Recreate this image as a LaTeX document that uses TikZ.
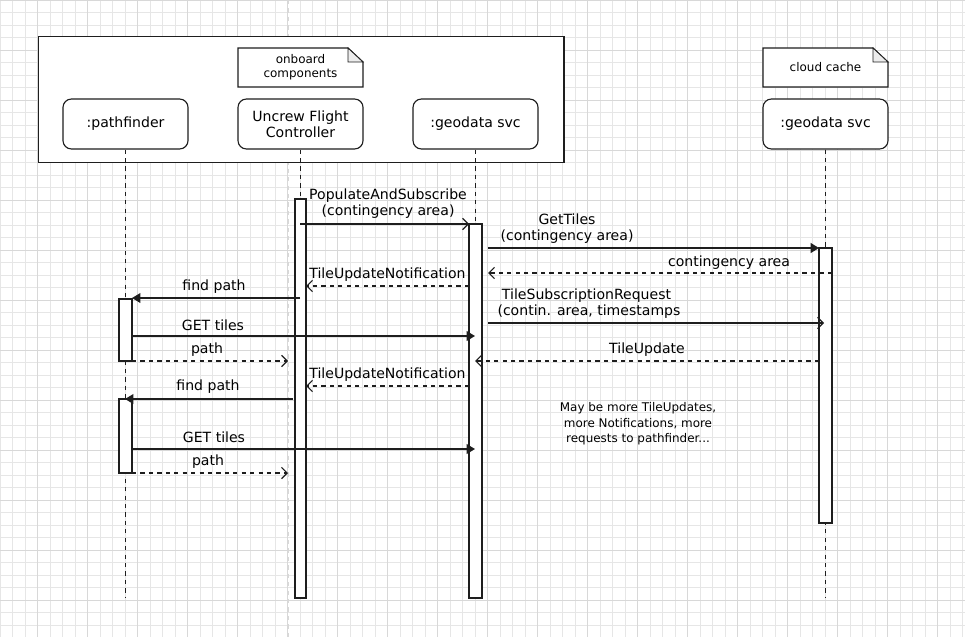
\documentclass[tikz,border=0pt]{standalone}
\usepackage{fontspec}
\setmainfont{DejaVu Sans}
\usetikzlibrary{shapes,arrows.meta,positioning,calc}
\definecolor{gridline}{RGB}{230,230,230}
\definecolor{gridmajor}{RGB}{216,216,216}
\definecolor{darkline}{RGB}{30,30,30}

\begin{document}
\begin{tikzpicture}[x=0.025cm, y=-0.025cm,
        actor/.style={rectangle, rounded corners=6pt, draw=darkline, fill=white, line width=0.8pt, minimum width=3.125cm, minimum height=1.25cm, align=center, font=\fontsize{10}{11.5}\selectfont},
        lbl/.style={font=\fontsize{10}{11.5}\selectfont, align=center, inner sep=0pt},
        life/.style={dashed, line width=0.7pt, darkline},
        act/.style={rectangle, draw=darkline, fill=white, line width=0.8pt},
        call/.style={-{Triangle[length=6pt,width=7pt]}, line width=0.8pt, darkline},
        async/.style={-{Straight Barb[length=4pt,width=8pt]}, line width=0.8pt, darkline},
        reply/.style={dashed, -{Straight Barb[length=4pt,width=8pt]}, line width=0.8pt, darkline}
    ]
    \useasboundingbox (0,0) rectangle (965,637);

    % Grid background
    \foreach \g in {0,12.5,...,965} \draw[gridline, line width=0.4pt] (\g,0) -- (\g,637);
    \foreach \g in {0,12.5,...,637} \draw[gridline, line width=0.4pt] (0,\g) -- (965,\g);
    \foreach \g in {37.5,87.5,...,965} \draw[gridmajor, line width=0.5pt] (\g,0) -- (\g,637);
    \foreach \g in {0,50,...,637} \draw[gridmajor, line width=0.5pt] (0,\g) -- (965,\g);
    \draw[gridmajor, dashed, line width=0.6pt] (288,0) -- (288,637);

    % Onboard frame
    \node[rectangle, draw=darkline, fill=white, line width=1pt, minimum width=13.125cm, minimum height=3.15cm, anchor=north west] (frame) at (38,36) {};
    \draw[darkline, fill=white, line width=0.8pt] (238,48) -- (348,48) -- (363,62) -- (363,87) -- (238,87) -- cycle;
    \draw[darkline, fill=gray!15, line width=0.6pt] (348,48) -- (348,62) -- (363,62) -- cycle;
    \node[lbl, font=\fontsize{8.5}{10}\selectfont] (onb) at (300.5,67.5) {onboard\\components};
    \draw[darkline, fill=white, line width=0.8pt] (763,48) -- (873,48) -- (888,62) -- (888,87) -- (763,87) -- cycle;
    \draw[darkline, fill=gray!15, line width=0.6pt] (873,48) -- (873,62) -- (888,62) -- cycle;
    \node[lbl, font=\fontsize{8.5}{10}\selectfont] (cloud) at (825.5,67.5) {cloud cache};

    % Lifeline heads
    \node[actor] (pf) at (125.5,124) {:pathfinder};
    \node[actor] (ufc) at (300.5,124) {Uncrew Flight\\Controller};
    \node[actor] (geo) at (475.5,124) {:geodata svc};
    \node[actor] (cgeo) at (825.5,124) {:geodata svc};

    % Lifelines
    \coordinate (pfend) at (125.5,598);
    \coordinate (ufcend) at (300.5,598);
    \coordinate (geoend) at (475.5,598);
    \coordinate (cgeoend) at (825.5,598);
    \draw[life] (pf) -- (pfend);
    \draw[life] (ufc) -- (ufcend);
    \draw[life] (geo) -- (geoend);
    \draw[life] (cgeo) -- (cgeoend);

    % Activations
    \draw[act] (295,199) rectangle (306,598);
    \draw[act] (469,224) rectangle (482,598);
    \draw[act] (819,248) rectangle (832,523);
    \draw[act] (119,299) rectangle (132,361);
    \draw[act] (119,399) rectangle (132,473);

    % Messages
    \coordinate (m1a) at (300,224); \coordinate (m1b) at (469,224);
    \draw[async] (m1a) -- (m1b);
    \node[lbl] at (388,203.5) {PopulateAndSubscribe\\(contingency area)};

    \coordinate (m2a) at (488,248); \coordinate (m2b) at (819,248);
    \draw[call, line width=1.3pt] (m2a) -- (m2b);
    \node[lbl] at (567,229) {GetTiles\\(contingency area)};

    \coordinate (m3a) at (832,273); \coordinate (m3b) at (488,273);
    \draw[reply] (m3a) -- (m3b);
    \node[lbl] at (729,262.5) {contingency area};

    \coordinate (m4a) at (469,286); \coordinate (m4b) at (306,286);
    \draw[reply] (m4a) -- (m4b);
    \node[lbl] at (387.5,275) {TileUpdateNotification};

    \coordinate (m5a) at (300,298); \coordinate (m5b) at (132,298);
    \draw[call] (m5a) -- (m5b);
    \node[lbl] at (214,287) {find path};

    \coordinate (m6a) at (488,323); \coordinate (m6b) at (824,323);
    \draw[async] (m6a) -- (m6b);
    \node[lbl, align=left] at (589,304) {\ TileSubscriptionRequest\\(contin. area, timestamps};

    \coordinate (m7a) at (132,336); \coordinate (m7b) at (475,336);
    \draw[call] (m7a) -- (m7b);
    \node[lbl] at (213,325) {GET tiles};

    \coordinate (m8a) at (132,361); \coordinate (m8b) at (288,361);
    \draw[reply] (m8a) -- (m8b);
    \node[lbl] at (207,350) {path};

    \coordinate (m9a) at (819,361); \coordinate (m9b) at (475,361);
    \draw[reply] (m9a) -- (m9b);
    \node[lbl] at (647,350) {TileUpdate};

    \coordinate (m10a) at (469,386); \coordinate (m10b) at (306,386);
    \draw[reply] (m10a) -- (m10b);
    \node[lbl] at (387.5,375) {TileUpdateNotification};

    \coordinate (m11a) at (293,399); \coordinate (m11b) at (125,399);
    \draw[call] (m11a) -- (m11b);
    \node[lbl] at (208,387) {find path};

    \coordinate (m12a) at (132,449); \coordinate (m12b) at (475,449);
    \draw[call] (m12a) -- (m12b);
    \node[lbl] at (214,437) {GET tiles};

    \coordinate (m13a) at (132,473); \coordinate (m13b) at (288,473);
    \draw[reply] (m13a) -- (m13b);
    \node[lbl] at (208,462) {path};

    % Note
    \node[lbl, font=\fontsize{8.5}{11}\selectfont] (more) at (638,424) {May be more TileUpdates,\\more Notifications, more\\requests to pathfinder...};
\end{tikzpicture}
\end{document}
